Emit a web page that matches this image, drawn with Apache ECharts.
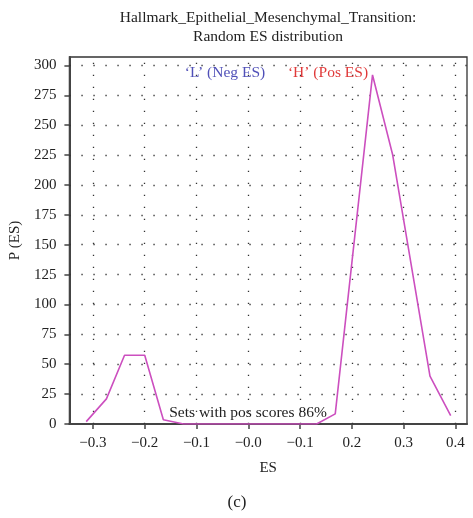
<!DOCTYPE html>
<html>
<head>
<meta charset="utf-8">
<script src="https://cdn.jsdelivr.net/npm/echarts@6/dist/echarts.min.js"></script>
<style>
  html, body { margin: 0; padding: 0; background: #fff; }
  #chart { width: 473px; height: 518px; }
</style>
</head>
<body>
<div id="chart"></div>
<script>
// Random enrichment-score distribution: polyline vertices (ES, P(ES))
const esValues      = [-0.313, -0.274, -0.239, -0.200, -0.164, -0.125, 0.132, 0.168, 0.240, 0.279, 0.351, 0.391];
const densityValues = [2, 21, 57.5, 57.5, 3.5, 0, 0, 8.5, 292, 225, 40, 7];

// Axis ticks and the labels printed under them
const xTicks      = [-0.3, -0.2, -0.1, 0.0, 0.1, 0.2, 0.3, 0.4];
const xTickLabels = ['\u22120.3', '\u22120.2', '\u22120.1', '\u22120.0', '\u22120.1', '0.2', '0.3', '0.4'];
const yTicks      = [0, 25, 50, 75, 100, 125, 150, 175, 200, 225, 250, 275, 300];

const titleLines = ['Hallmark_Epithelial_Mesenchymal_Transition:', 'Random ES distribution'];
const negLabel = '\u2018L\u2019 (Neg ES)';
const posLabel = '\u2018H\u2019 (Pos ES)';
const noteLabel = 'Sets with pos scores 86%';
const panelLabel = '(c)';

const serif = '"Liberation Serif", "DejaVu Serif", serif';
const ink = '#222';

const chart = echarts.init(document.getElementById('chart'), null, { renderer: 'canvas' });

const seriesData = esValues.map((x, i) => [x, densityValues[i]]);
const dotted = { color: '#333', width: 1.3, type: [1.3, 10.7] };

chart.setOption({
  animation: false,
  backgroundColor: '#fff',
  grid: {
    left: 69, right: 6, top: 57, bottom: 94,
    show: true, borderColor: '#333', borderWidth: 1.3, backgroundColor: 'transparent'
  },
  xAxis: {
    type: 'value',
    min: -0.3455, max: 0.4225,
    name: 'ES', nameLocation: 'middle', nameGap: 37,
    nameTextStyle: { fontFamily: serif, fontSize: 15, color: ink },
    axisLine: { show: true, onZero: false, lineStyle: { color: '#444', width: 2 } },
    axisTick: { show: true, length: 5, customValues: xTicks, lineStyle: { color: '#444', width: 1.5 } },
    axisLabel: {
      customValues: xTicks, margin: 12,
      fontFamily: serif, fontSize: 15, color: ink,
      formatter: v => {
        const i = xTicks.findIndex(t => Math.abs(t - v) < 1e-6);
        return i >= 0 ? xTickLabels[i] : '';
      }
    },
    splitLine: { show: false }
  },
  yAxis: {
    type: 'value',
    min: 0, max: 307,
    name: 'P (ES)', nameLocation: 'middle', nameGap: 46,
    nameTextStyle: { fontFamily: serif, fontSize: 15, color: ink },
    axisLine: { show: true, onZero: false, lineStyle: { color: '#444', width: 2 } },
    axisTick: { show: true, length: 5, customValues: yTicks, lineStyle: { color: '#444', width: 1.5 } },
    axisLabel: { customValues: yTicks, margin: 13, fontFamily: serif, fontSize: 15, color: ink },
    splitLine: { show: false }
  },
  series: [
    {
      // dotted grid drawn at the tick positions
      type: 'line', data: [], silent: true,
      markLine: {
        silent: true, symbol: ['none', 'none'], animation: false,
        label: { show: false },
        lineStyle: dotted,
        emphasis: { disabled: true },
        data: xTicks.map(v => ({ xAxis: v })).concat(yTicks.filter(v => v > 0).map(v => ({ yAxis: v })))
      }
    },
    {
      type: 'line',
      data: seriesData,
      symbol: 'none',
      lineStyle: { color: '#cc4fbf', width: 1.6 },
      z: 5
    }
  ],
  graphic: [
    { type: 'text', x: 268, y: 8, style: { text: titleLines.join('\n'), font: '15.5px ' + serif, fill: ink, align: 'center', lineHeight: 19 } },
    { type: 'text', x: 225, y: 65, style: { text: negLabel, font: '15.5px ' + serif, fill: '#5050b8', align: 'center' }, z: 10 },
    { type: 'text', x: 328, y: 65, style: { text: posLabel, font: '15.5px ' + serif, fill: '#e03a3a', align: 'center' }, z: 10 },
    { type: 'text', x: 248, y: 405, style: { text: noteLabel, font: '15.5px ' + serif, fill: ink, align: 'center' }, z: 10 },
    { type: 'text', x: 237, y: 494, style: { text: panelLabel, font: '17px ' + serif, fill: ink, align: 'center' } }
  ]
});
</script>
</body>
</html>
